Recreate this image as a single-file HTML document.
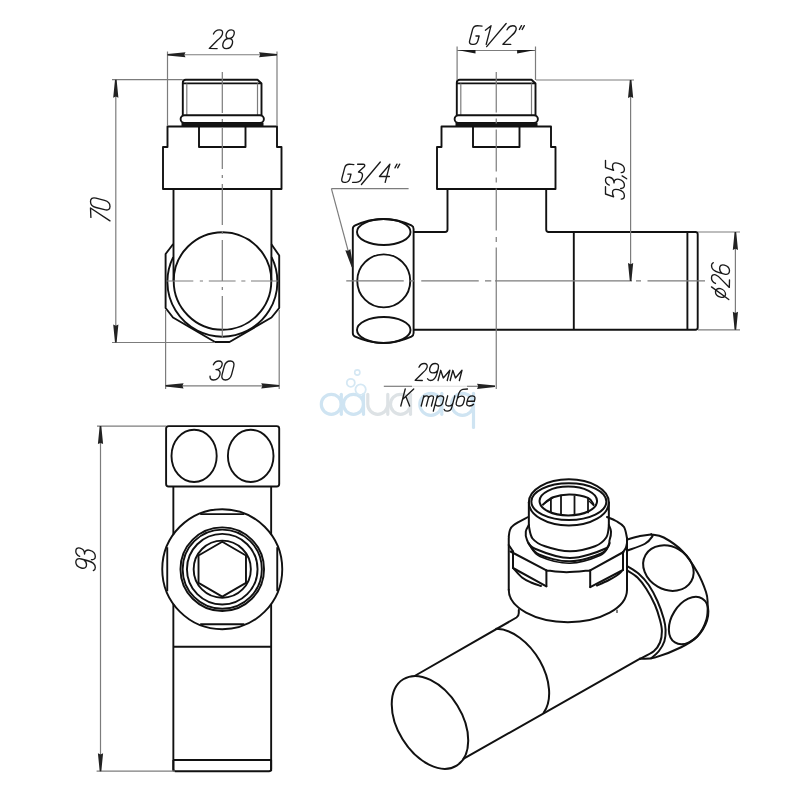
<!DOCTYPE html>
<html><head><meta charset="utf-8"><style>
html,body{margin:0;padding:0;background:#fff;font-family:"Liberation Sans",sans-serif;}
svg{display:block;}
</style></head><body>
<svg width="800" height="800" viewBox="0 0 800 800">
<rect width="800" height="800" fill="#fff"/>
<circle cx="331.3" cy="404.3" r="10" stroke="#cfe4f2" stroke-width="3.2" fill="none" stroke-linecap="round"/>
<line x1="341.3" y1="394.3" x2="341.3" y2="414.3" stroke="#cfe4f2" stroke-width="3.2" fill="none" stroke-linecap="round"/>
<circle cx="353.5" cy="404.3" r="10" stroke="#cfe4f2" stroke-width="3.2" fill="none" stroke-linecap="round"/>
<line x1="363.5" y1="394.3" x2="363.5" y2="414.3" stroke="#cfe4f2" stroke-width="3.2" fill="none" stroke-linecap="round"/>
<path d="M367.8,394.3 L367.8,404.3 A10,10 0 0 0 387.8,404.3 L387.8,394.3 M387.8,404.3 L387.8,414.3" stroke="#dde2e5" stroke-width="3.2" fill="none" stroke-linecap="round"/>
<circle cx="400.5" cy="404.3" r="10" stroke="#dde2e5" stroke-width="3.2" fill="none" stroke-linecap="round"/>
<line x1="410.5" y1="394.3" x2="410.5" y2="414.3" stroke="#dde2e5" stroke-width="3.2" fill="none" stroke-linecap="round"/>
<circle cx="430.8" cy="404.3" r="11" stroke="#cfe4f2" stroke-width="3.2" fill="none" stroke-linecap="round"/>
<line x1="441.8" y1="393.3" x2="441.8" y2="414.3" stroke="#cfe4f2" stroke-width="3.2" fill="none" stroke-linecap="round"/>
<circle cx="462.5" cy="404.3" r="11" stroke="#cfe4f2" stroke-width="3.2" fill="none" stroke-linecap="round"/>
<line x1="473.5" y1="393.3" x2="473.5" y2="427.5" stroke="#cfe4f2" stroke-width="3.2" fill="none" stroke-linecap="round"/>
<circle cx="357.3" cy="372.5" r="2.6" stroke="#d5e8f4" stroke-width="1.6" fill="none"/>
<circle cx="350.8" cy="382.8" r="4" stroke="#d5e8f4" stroke-width="1.8" fill="none"/>
<circle cx="360.6" cy="389.6" r="5.2" stroke="#d5e8f4" stroke-width="1.8" fill="none"/>
<path d="M182.8,115 L182.8,82.7 Q182.8,79.7 185.8,79.7 L257.5,79.7 L261.5,83.5 L261.5,115" stroke="#111" stroke-width="1.9" fill="none" stroke-linejoin="round"/>
<line x1="182.8" y1="83.4" x2="261.5" y2="83.4" stroke="#111" stroke-width="1.9" fill="none" stroke-linejoin="round"/>
<line x1="186.8" y1="83.4" x2="186.8" y2="115" stroke="#7c7c7c" stroke-width="1.2" fill="none"/>
<line x1="257.5" y1="83.4" x2="257.5" y2="115" stroke="#7c7c7c" stroke-width="1.2" fill="none"/>
<path d="M184.5,115.2 L260,115.2 A3.9,3.9 0 0 1 260,123 L184.5,123 A3.9,3.9 0 0 1 184.5,115.2 Z" stroke="#111" stroke-width="1.9" fill="none" stroke-linejoin="round"/>
<rect x="181.5" y="123" width="82" height="3.5" fill="#141414"/>
<path d="M167.5,126.5 L277,126.5 L277,147 L281.5,147 L281.5,189 L163,189 L163,147 L167.5,147 Z" stroke="#111" stroke-width="1.9" fill="none" stroke-linejoin="round"/>
<path d="M199,126.5 L199,147 L245.5,147 L245.5,126.5" stroke="#111" stroke-width="1.9" fill="none" stroke-linejoin="round"/>
<line x1="167.5" y1="51.5" x2="167.5" y2="126" stroke="#7c7c7c" stroke-width="1.2" fill="none"/>
<line x1="277" y1="51.5" x2="277" y2="126" stroke="#7c7c7c" stroke-width="1.2" fill="none"/>
<line x1="167.5" y1="54.75" x2="277" y2="54.75" stroke="#7c7c7c" stroke-width="1.2" fill="none"/>
<polygon points="167.50,53.95 185.50,52.15 184.30,54.75 185.50,57.35 167.50,55.55" fill="#222"/>
<polygon points="277.00,55.55 259.00,57.35 260.20,54.75 259.00,52.15 277.00,53.95" fill="#222"/>
<path transform="translate(209.25,48.60) rotate(0)" d="M 4.19,-14.66 C 5.49,-17.48 7.71,-18.80 9.96,-18.80 C 12.78,-18.80 13.85,-17.11 13.16,-14.48 C 12.53,-12.03 10.77,-10.34 8.17,-8.27 L 0.05,-0.19 L 7.90,0.00 M 22.02,-18.80 C 19.39,-18.80 17.59,-16.92 16.95,-14.48 C 16.27,-11.84 17.52,-10.15 19.77,-10.15 C 22.03,-10.15 24.16,-11.84 24.85,-14.48 C 25.48,-16.92 24.65,-18.80 22.02,-18.80 Z M 19.77,-10.15 C 16.95,-10.15 14.54,-8.08 13.75,-5.08 C 12.92,-1.88 14.31,0.00 17.13,0.00 C 19.95,0.00 22.32,-1.88 23.15,-5.08 C 23.94,-8.08 22.59,-10.15 19.77,-10.15 Z" stroke="#1a1a1a" stroke-width="1.35" fill="none" stroke-linecap="round" stroke-linejoin="round"/>
<line x1="173.5" y1="189" x2="173.5" y2="281" stroke="#111" stroke-width="1.9" fill="none" stroke-linejoin="round"/>
<line x1="271.4" y1="189" x2="271.4" y2="281" stroke="#111" stroke-width="1.9" fill="none" stroke-linejoin="round"/>
<path d="M173.2,244 L165.6,254 L165.6,308 L173,317.5 L215,342 L229.5,342 L271.5,317.5 L279.2,308 L279.2,255.5 L271.4,244.2" stroke="#111" stroke-width="1.9" fill="none" stroke-linejoin="round"/>
<circle cx="222.5" cy="281" r="48.8" stroke="#111" stroke-width="1.9" fill="none" stroke-linejoin="round"/>
<path d="M173.2,257.1 A55,55 0 1 0 271.6,257.1" stroke="#111" stroke-width="1.9" fill="none" stroke-linejoin="round"/>
<path d="M222.3,72 L222.3,113 M222.3,119 L222.3,122 M222.3,128 L222.3,169 M222.3,175 L222.3,178 M222.3,184 L222.3,225 M222.3,231 L222.3,234 M222.3,240 L222.3,281 M222.3,287 L222.3,290 M222.3,296 L222.3,338" stroke="#7c7c7c" stroke-width="1.2" fill="none"/>
<path d="M166.5,281 L193.3,281 M199.8,281 L203,281 M208.8,281 L235.6,281 M241.3,281 L245.4,281 M251,281 L277.9,281" stroke="#7c7c7c" stroke-width="1.2" fill="none"/>
<line x1="112" y1="79.7" x2="182.8" y2="79.7" stroke="#7c7c7c" stroke-width="1.2" fill="none"/>
<line x1="112" y1="342.5" x2="215" y2="342.5" stroke="#7c7c7c" stroke-width="1.2" fill="none"/>
<line x1="115.8" y1="79.7" x2="115.8" y2="342.5" stroke="#7c7c7c" stroke-width="1.2" fill="none"/>
<polygon points="116.60,79.70 118.40,97.70 115.80,96.50 113.20,97.70 115.00,79.70" fill="#222"/>
<polygon points="115.00,342.50 113.20,324.50 115.80,325.70 118.40,324.50 116.60,342.50" fill="#222"/>
<path transform="translate(110.00,222.39) rotate(-90)" d="M 4.97,-19.11 L 14.37,-19.50 L 1.49,0.00 M 24.21,-14.04 C 25.12,-17.55 23.77,-19.50 20.97,-19.50 C 18.18,-19.50 15.82,-17.55 14.90,-14.04 L 12.67,-5.46 C 11.76,-1.95 13.11,0.00 15.90,0.00 C 18.70,0.00 21.06,-1.95 21.98,-5.46 Z" stroke="#1a1a1a" stroke-width="1.35" fill="none" stroke-linecap="round" stroke-linejoin="round"/>
<line x1="165.6" y1="310" x2="165.6" y2="389" stroke="#7c7c7c" stroke-width="1.2" fill="none"/>
<line x1="279.2" y1="310" x2="279.2" y2="389" stroke="#7c7c7c" stroke-width="1.2" fill="none"/>
<line x1="165.6" y1="385.8" x2="279.2" y2="385.8" stroke="#7c7c7c" stroke-width="1.2" fill="none"/>
<polygon points="165.60,385.00 183.60,383.20 182.40,385.80 183.60,388.40 165.60,386.60" fill="#222"/>
<polygon points="279.20,386.60 261.20,388.40 262.40,385.80 261.20,383.20 279.20,385.00" fill="#222"/>
<path transform="translate(209.04,380.00) rotate(0)" d="M 4.33,-15.20 C 5.59,-17.86 7.60,-19.00 9.69,-19.00 C 12.54,-19.00 13.62,-17.29 12.97,-14.82 C 12.28,-12.16 9.94,-10.45 6.90,-10.45 C 10.32,-10.45 11.67,-8.36 10.88,-5.32 C 9.99,-1.90 7.60,0.00 4.56,0.00 C 1.90,0.00 0.78,-1.52 0.99,-3.80 M 24.70,-13.68 C 25.59,-17.10 24.18,-19.00 21.33,-19.00 C 18.48,-19.00 16.09,-17.10 15.20,-13.68 L 13.03,-5.32 C 12.14,-1.90 13.54,0.00 16.39,0.00 C 19.24,0.00 21.64,-1.90 22.53,-5.32 Z" stroke="#1a1a1a" stroke-width="1.35" fill="none" stroke-linecap="round" stroke-linejoin="round"/>
<path d="M456.8,115 L456.8,82.7 Q456.8,79.7 459.8,79.7 L531.5,79.7 L535.5,83.5 L535.5,115" stroke="#111" stroke-width="1.9" fill="none" stroke-linejoin="round"/>
<line x1="456.8" y1="83.4" x2="535.5" y2="83.4" stroke="#111" stroke-width="1.9" fill="none" stroke-linejoin="round"/>
<line x1="460.8" y1="83.4" x2="460.8" y2="115" stroke="#7c7c7c" stroke-width="1.2" fill="none"/>
<line x1="531.5" y1="83.4" x2="531.5" y2="115" stroke="#7c7c7c" stroke-width="1.2" fill="none"/>
<path d="M458.5,115.2 L534,115.2 A3.9,3.9 0 0 1 534,123 L458.5,123 A3.9,3.9 0 0 1 458.5,115.2 Z" stroke="#111" stroke-width="1.9" fill="none" stroke-linejoin="round"/>
<rect x="455.5" y="123" width="82" height="3.5" fill="#141414"/>
<path d="M441.5,126.5 L551,126.5 L551,147 L555.5,147 L555.5,189 L437,189 L437,147 L441.5,147 Z" stroke="#111" stroke-width="1.9" fill="none" stroke-linejoin="round"/>
<path d="M473,126.5 L473,147 L519.5,147 L519.5,126.5" stroke="#111" stroke-width="1.9" fill="none" stroke-linejoin="round"/>
<line x1="457.1" y1="46.5" x2="457.1" y2="80" stroke="#7c7c7c" stroke-width="1.2" fill="none"/>
<line x1="535.5" y1="46.5" x2="535.5" y2="80" stroke="#7c7c7c" stroke-width="1.2" fill="none"/>
<line x1="457.1" y1="50.5" x2="535.5" y2="50.5" stroke="#7c7c7c" stroke-width="1.2" fill="none"/>
<polygon points="457.1,50.1 475.5,50.1 475.5,53.4" fill="#1a1a1a"/>
<polygon points="535.5,50.1 517.1,50.1 517.1,53.4" fill="#1a1a1a"/>
<path transform="translate(468.70,44.40) rotate(0)" d="M 13.37,-18.33 L 8.60,-18.70 C 6.17,-18.70 4.47,-17.20 3.89,-14.96 L 0.97,-3.74 C 0.39,-1.50 1.31,0.00 3.74,0.00 L 4.86,0.00 C 7.29,0.00 8.62,-1.50 9.20,-3.74 L 10.42,-8.41 L 7.24,-8.41 M 16.71,-14.21 L 22.36,-18.70 L 17.50,0.00 M 17.96,2.24 L 37.45,-20.94 M 38.34,-14.59 C 39.63,-17.39 41.84,-18.70 44.09,-18.70 C 46.89,-18.70 47.95,-17.02 47.27,-14.40 C 46.64,-11.97 44.89,-10.29 42.30,-8.23 L 34.22,-0.19 L 42.03,0.00 M 52.80,-18.70 L 50.70,-14.96 M 55.60,-18.70 L 53.51,-14.96" stroke="#1a1a1a" stroke-width="1.35" fill="none" stroke-linecap="round" stroke-linejoin="round"/>
<line x1="536" y1="80" x2="634" y2="80" stroke="#7c7c7c" stroke-width="1.2" fill="none"/>
<path d="M447.5,189 L447.5,229.5 Q447.5,232 445,232 L413.8,232" stroke="#111" stroke-width="1.9" fill="none" stroke-linejoin="round"/>
<path d="M546.2,189 L546.2,229.5 Q546.2,232 548.7,232 L695.5,232 Q697.7,232 697.7,234.2 L697.7,327.6 Q697.7,329.8 695.5,329.8 L413.8,329.8" stroke="#111" stroke-width="1.9" fill="none" stroke-linejoin="round"/>
<line x1="573.8" y1="232" x2="573.8" y2="329.8" stroke="#111" stroke-width="1.9" fill="none" stroke-linejoin="round"/>
<line x1="687.4" y1="232" x2="687.4" y2="329.8" stroke="#111" stroke-width="1.9" fill="none" stroke-linejoin="round"/>
<path d="M352.8,333 L352.8,229 Q352.8,226.5 355.2,225.4 Q383.3,212.6 411.4,225.4 Q413.6,226.5 413.6,229 L413.6,333 Q413.6,335.5 411.4,336.6 Q383.3,349.4 355.2,336.6 Q352.8,335.5 352.8,333 Z" stroke="#111" stroke-width="1.9" fill="none" stroke-linejoin="round"/>
<ellipse cx="383.75" cy="232" rx="26.75" ry="13" stroke="#111" stroke-width="1.9" fill="none" stroke-linejoin="round"/>
<ellipse cx="383.75" cy="330" rx="26.75" ry="13" stroke="#111" stroke-width="1.9" fill="none" stroke-linejoin="round"/>
<circle cx="383.75" cy="280.9" r="26.5" stroke="#111" stroke-width="1.9" fill="none" stroke-linejoin="round"/>
<path d="M496.25,72 L496.25,112.5 M496.25,118.5 L496.25,123.5 M496.25,129.5 L496.25,171.5 M496.25,177.5 L496.25,182.5 M496.25,188.5 L496.25,230.5 M496.25,237 L496.25,242 M496.25,247.5 L496.25,389" stroke="#7c7c7c" stroke-width="1.2" fill="none"/>
<path d="M346.25,280.9 L403.75,280.9 M410,280.9 L415,280.9 M421.25,280.9 L478.75,280.9 M485,280.9 L491.25,280.9 M495,280.9 L632,280.9 M636,280.9 L641,280.9 M647.5,280.9 L705,280.9" stroke="#7c7c7c" stroke-width="1.2" fill="none"/>
<line x1="630.6" y1="80" x2="630.6" y2="281" stroke="#7c7c7c" stroke-width="1.2" fill="none"/>
<polygon points="631.40,80.00 633.20,98.00 630.60,96.80 628.00,98.00 629.80,80.00" fill="#222"/>
<polygon points="629.80,281.00 628.00,263.00 630.60,264.20 633.20,263.00 631.40,281.00" fill="#222"/>
<path transform="translate(624.40,199.94) rotate(-90)" d="M 13.21,-18.90 L 5.95,-18.90 L 3.15,-10.77 C 4.78,-11.72 6.21,-11.91 7.59,-11.91 C 10.36,-11.91 11.10,-9.45 10.22,-6.05 C 9.24,-2.27 6.92,0.00 4.15,0.00 C 1.73,0.00 0.86,-1.32 0.84,-3.21 M 14.81,-15.12 C 16.02,-17.77 17.87,-18.90 19.77,-18.90 C 22.37,-18.90 23.31,-17.20 22.67,-14.74 C 21.98,-12.10 19.81,-10.39 17.04,-10.39 C 20.16,-10.39 21.34,-8.32 20.56,-5.29 C 19.67,-1.89 17.45,0.00 14.69,0.00 C 12.27,0.00 11.28,-1.51 11.52,-3.78 M 24.08,-2.27 L 21.17,2.27 M 39.64,-18.90 L 32.37,-18.90 L 29.57,-10.77 C 31.20,-11.72 32.63,-11.91 34.01,-11.91 C 36.78,-11.91 37.52,-9.45 36.64,-6.05 C 35.66,-2.27 33.34,0.00 30.57,0.00 C 28.15,0.00 27.28,-1.32 27.26,-3.21" stroke="#1a1a1a" stroke-width="1.35" fill="none" stroke-linecap="round" stroke-linejoin="round"/>
<line x1="698" y1="232" x2="740" y2="232" stroke="#7c7c7c" stroke-width="1.2" fill="none"/>
<line x1="698" y1="329.8" x2="740" y2="329.8" stroke="#7c7c7c" stroke-width="1.2" fill="none"/>
<line x1="735.4" y1="232" x2="735.4" y2="329.8" stroke="#7c7c7c" stroke-width="1.2" fill="none"/>
<polygon points="736.20,232.00 738.00,250.00 735.40,248.80 732.80,250.00 734.60,232.00" fill="#222"/>
<polygon points="734.60,329.80 732.80,311.80 735.40,313.00 738.00,311.80 736.20,329.80" fill="#222"/>
<path transform="translate(729.50,299.51) rotate(-90)" d="M 7.79,-14.04 C 5.45,-14.04 3.09,-11.88 2.34,-9.00 C 1.59,-6.12 2.83,-3.96 5.17,-3.96 C 7.51,-3.96 10.05,-6.12 10.80,-9.00 C 11.55,-11.88 10.13,-14.04 7.79,-14.04 Z M 12.60,-18.00 L 0.01,-0.72 M 16.08,-14.04 C 17.32,-16.74 19.45,-18.00 21.61,-18.00 C 24.31,-18.00 25.33,-16.38 24.67,-13.86 C 24.06,-11.52 22.38,-9.90 19.89,-7.92 L 12.11,-0.18 L 19.63,0.00 M 36.81,-16.20 C 36.23,-17.46 35.12,-18.00 33.68,-18.00 C 30.62,-18.00 28.11,-15.30 26.85,-10.44 L 25.45,-5.04 C 24.60,-1.80 25.94,0.00 28.64,0.00 C 31.34,0.00 33.60,-1.80 34.45,-5.04 C 35.24,-8.10 33.91,-9.90 31.21,-9.90 C 28.87,-9.90 26.92,-8.64 26.01,-7.20" stroke="#1a1a1a" stroke-width="1.35" fill="none" stroke-linecap="round" stroke-linejoin="round"/>
<line x1="331.4" y1="188.7" x2="408.6" y2="188.7" stroke="#7c7c7c" stroke-width="1.2" fill="none"/>
<line x1="331.4" y1="188.7" x2="352.5" y2="267" stroke="#7c7c7c" stroke-width="1.2" fill="none"/>
<polygon points="351.73,267.21 345.31,250.30 348.13,250.78 350.33,248.94 353.27,266.79" fill="#222"/>
<path transform="translate(340.92,182.30) rotate(0)" d="M 12.94,-17.74 L 8.33,-18.10 C 5.97,-18.10 4.33,-16.65 3.76,-14.48 L 0.94,-3.62 C 0.38,-1.45 1.27,0.00 3.62,0.00 L 4.71,0.00 C 7.06,0.00 8.34,-1.45 8.91,-3.62 L 10.08,-8.14 L 7.00,-8.14 M 16.69,-18.10 L 22.12,-18.10 C 23.93,-18.10 24.37,-17.01 23.27,-15.57 L 17.56,-10.32 C 21.18,-10.32 22.06,-8.14 21.36,-5.43 C 20.41,-1.81 18.13,0.00 15.24,0.00 L 11.62,0.00 M 20.50,2.17 L 39.37,-20.27 M 44.26,0.00 L 48.97,-18.10 L 38.53,-5.79 L 48.48,-5.79 M 56.06,-18.10 L 54.03,-14.48 M 58.78,-18.10 L 56.75,-14.48" stroke="#1a1a1a" stroke-width="1.35" fill="none" stroke-linecap="round" stroke-linejoin="round"/>
<line x1="383.8" y1="386.3" x2="412" y2="386.3" stroke="#7c7c7c" stroke-width="1.2" fill="none"/>
<line x1="412" y1="386.3" x2="467" y2="386.3" stroke="#dedede" stroke-width="1.1" fill="none"/>
<line x1="467" y1="386.3" x2="495" y2="386.3" stroke="#7c7c7c" stroke-width="1.2" fill="none"/>
<polygon points="495.00,387.10 477.00,388.90 478.20,386.30 477.00,383.70 495.00,385.50" fill="#222"/>
<path transform="translate(415.16,380.50) rotate(0)" d="M 3.79,-13.26 C 4.96,-15.81 6.97,-17.00 9.01,-17.00 C 11.56,-17.00 12.52,-15.47 11.90,-13.09 C 11.33,-10.88 9.74,-9.35 7.38,-7.48 L 0.04,-0.17 L 7.14,0.00 M 12.40,-1.70 C 12.94,-0.51 13.99,0.00 15.35,0.00 C 18.24,0.00 20.61,-2.55 21.80,-7.14 L 23.13,-12.24 C 23.92,-15.30 22.66,-17.00 20.11,-17.00 C 17.56,-17.00 15.42,-15.30 14.63,-12.24 C 13.88,-9.35 15.13,-7.65 17.68,-7.65 C 19.89,-7.65 21.73,-8.84 22.60,-10.20 M 22.89,0.00 L 25.54,-10.20 L 28.14,-2.55 L 34.72,-10.20 L 32.07,0.00 M 35.01,0.00 L 37.66,-10.20 L 40.27,-2.55 L 46.84,-10.20 L 44.19,0.00" stroke="#1a1a1a" stroke-width="1.35" fill="none" stroke-linecap="round" stroke-linejoin="round"/>
<path transform="translate(400.80,406.00) rotate(0)" d="M 4.42,-17.00 L 0.00,0.00 M 12.92,-17.00 L 1.68,-6.46 M 5.15,-9.35 L 8.84,0.00 M 20.41,0.00 L 23.07,-10.20 M 22.40,-7.65 C 22.85,-9.35 24.09,-10.20 25.62,-10.20 C 27.15,-10.20 27.95,-9.35 27.50,-7.65 L 25.51,0.00 M 27.50,-7.65 C 27.95,-9.35 29.19,-10.20 30.72,-10.20 C 32.25,-10.20 33.05,-9.35 32.60,-7.65 L 30.61,0.00 M 32.53,5.10 L 36.50,-10.20 M 35.62,-6.80 C 36.20,-9.01 37.86,-10.20 39.90,-10.20 C 42.11,-10.20 43.29,-8.84 42.76,-6.80 L 41.88,-3.40 C 41.30,-1.19 39.46,0.00 37.25,0.00 C 35.21,0.00 34.16,-1.19 34.74,-3.40 M 46.88,-10.20 L 45.11,-3.40 C 44.54,-1.19 45.59,0.00 47.63,0.00 C 49.67,0.00 51.68,-1.19 52.25,-3.40 M 54.02,-10.20 L 50.93,1.70 C 50.31,4.08 48.51,5.10 46.30,5.10 C 44.60,5.10 43.59,4.42 43.35,3.40 M 66.68,-17.00 L 62.00,-16.66 C 59.87,-16.32 58.36,-14.45 57.26,-10.20 L 55.49,-3.40 C 54.92,-1.19 55.97,0.00 58.18,0.00 C 60.39,0.00 62.23,-1.19 62.80,-3.40 L 63.60,-6.46 C 64.13,-8.50 62.95,-9.86 60.74,-9.86 C 58.87,-9.86 57.46,-9.01 56.60,-7.65 M 66.73,-4.76 L 73.53,-4.76 L 74.06,-6.80 C 74.64,-9.01 73.42,-10.20 71.38,-10.20 C 69.17,-10.20 67.45,-8.84 66.92,-6.80 L 66.04,-3.40 C 65.46,-1.19 66.51,0.00 68.72,0.00 C 70.42,0.00 71.75,-0.51 72.74,-1.70" stroke="#1a1a1a" stroke-width="1.35" fill="none" stroke-linecap="round" stroke-linejoin="round"/>
<path d="M168.6,426.1 L276.7,426.1 Q279.2,426.1 279.2,428.6 L279.2,484 Q279.2,486.5 276.7,486.5 L168.6,486.5 Q166.1,486.5 166.1,484 L166.1,428.6 Q166.1,426.1 168.6,426.1 Z" stroke="#111" stroke-width="1.9" fill="none" stroke-linejoin="round"/>
<ellipse cx="194.1" cy="455.9" rx="22.6" ry="26.1" stroke="#111" stroke-width="1.9" fill="none" stroke-linejoin="round"/>
<ellipse cx="250.7" cy="455.9" rx="22.8" ry="26.1" stroke="#111" stroke-width="1.9" fill="none" stroke-linejoin="round"/>
<line x1="173.35" y1="486.5" x2="173.35" y2="534.6" stroke="#111" stroke-width="1.9" fill="none" stroke-linejoin="round"/>
<line x1="271.15" y1="486.5" x2="271.15" y2="534.6" stroke="#111" stroke-width="1.9" fill="none" stroke-linejoin="round"/>
<line x1="173.35" y1="604" x2="173.35" y2="771.2" stroke="#111" stroke-width="1.9" fill="none" stroke-linejoin="round"/>
<line x1="271.15" y1="604" x2="271.15" y2="771.2" stroke="#111" stroke-width="1.9" fill="none" stroke-linejoin="round"/>
<circle cx="222.25" cy="569.2" r="60" stroke="#111" stroke-width="1.9" fill="none" stroke-linejoin="round"/>
<line x1="200.2" y1="514.1" x2="244.3" y2="514.1" stroke="#111" stroke-width="1.9" fill="none" stroke-linejoin="round"/>
<line x1="200.2" y1="624.3" x2="244.3" y2="624.3" stroke="#111" stroke-width="1.9" fill="none" stroke-linejoin="round"/>
<line x1="167.25" y1="547.2" x2="167.25" y2="591.2" stroke="#111" stroke-width="1.9" fill="none" stroke-linejoin="round"/>
<line x1="277.25" y1="547.2" x2="277.25" y2="591.2" stroke="#111" stroke-width="1.9" fill="none" stroke-linejoin="round"/>
<circle cx="222.25" cy="569.2" r="41.8" stroke="#111" stroke-width="1.9" fill="none" stroke-linejoin="round"/>
<circle cx="222.25" cy="569.2" r="39.6" stroke="#111" stroke-width="1.9" fill="none" stroke-linejoin="round"/>
<circle cx="222.25" cy="569.2" r="35.3" stroke="#111" stroke-width="1.9" fill="none" stroke-linejoin="round"/>
<circle cx="222.25" cy="569.2" r="28.6" stroke="#111" stroke-width="1.9" fill="none" stroke-linejoin="round"/>
<polygon points="222.25,541.80 245.98,555.50 245.98,582.90 222.25,596.60 198.52,582.90 198.52,555.50" stroke="#111" stroke-width="1.9" fill="none" stroke-linejoin="round"/>
<line x1="173.35" y1="646.8" x2="271.15" y2="646.8" stroke="#111" stroke-width="1.9" fill="none" stroke-linejoin="round"/>
<line x1="173.35" y1="760" x2="271.15" y2="760" stroke="#111" stroke-width="1.9" fill="none" stroke-linejoin="round"/>
<path d="M173.35,760 L173.35,769 Q173.35,771.2 175.5,771.2 L269,771.2 Q271.15,771.2 271.15,769 L271.15,760" stroke="#111" stroke-width="1.9" fill="none" stroke-linejoin="round"/>
<line x1="97" y1="426.1" x2="166.1" y2="426.1" stroke="#7c7c7c" stroke-width="1.2" fill="none"/>
<line x1="96.6" y1="771.2" x2="175" y2="771.2" stroke="#7c7c7c" stroke-width="1.2" fill="none"/>
<line x1="100.5" y1="426.1" x2="100.5" y2="771.2" stroke="#7c7c7c" stroke-width="1.2" fill="none"/>
<polygon points="101.30,426.10 103.10,444.10 100.50,442.90 97.90,444.10 99.70,426.10" fill="#222"/>
<polygon points="99.70,771.20 97.90,753.20 100.50,754.40 103.10,753.20 101.30,771.20" fill="#222"/>
<path transform="translate(95.30,571.65) rotate(-90)" d="M 1.05,-1.95 C 1.59,-0.59 2.70,0.00 4.14,0.00 C 7.20,0.00 9.76,-2.93 11.13,-8.19 L 12.65,-14.04 C 13.57,-17.55 12.27,-19.50 9.57,-19.50 C 6.87,-19.50 4.56,-17.55 3.65,-14.04 C 2.79,-10.73 4.08,-8.77 6.78,-8.77 C 9.12,-8.77 11.10,-10.14 12.04,-11.70 M 15.37,-15.60 C 16.62,-18.33 18.54,-19.50 20.52,-19.50 C 23.22,-19.50 24.21,-17.75 23.55,-15.21 C 22.84,-12.48 20.58,-10.73 17.70,-10.73 C 20.94,-10.73 22.19,-8.58 21.37,-5.46 C 20.46,-1.95 18.15,0.00 15.27,0.00 C 12.75,0.00 11.72,-1.56 11.97,-3.90" stroke="#1a1a1a" stroke-width="1.35" fill="none" stroke-linecap="round" stroke-linejoin="round"/>
<ellipse cx="429.97" cy="722.4" rx="50.76" ry="32.18" transform="rotate(58.26 429.97 722.4)" stroke="#111" stroke-width="2.0" fill="none" stroke-linecap="round" stroke-linejoin="round"/>
<path d="M415,675.75 L516.5,617.5 Q518.8,616 518.8,613 L518.8,610" stroke="#111" stroke-width="2.0" fill="none" stroke-linecap="round" stroke-linejoin="round"/>
<line x1="463.75" y1="758.6" x2="640.1" y2="658.7" stroke="#111" stroke-width="2.0" fill="none" stroke-linecap="round" stroke-linejoin="round"/>
<path d="M496.25,628.75 A50.76,32.18 58.26 0 1 543.75,712.5" stroke="#111" stroke-width="2.0" fill="none" stroke-linecap="round" stroke-linejoin="round"/>
<line x1="508.75" y1="538" x2="508.75" y2="589.8" stroke="#111" stroke-width="2.0" fill="none" stroke-linecap="round" stroke-linejoin="round"/>
<line x1="627" y1="538" x2="627" y2="589.8" stroke="#111" stroke-width="2.0" fill="none" stroke-linecap="round" stroke-linejoin="round"/>
<path d="M508.75,589.8 A59.1,32.4 0 0 0 627,589.8" stroke="#111" stroke-width="2.0" fill="none" stroke-linecap="round" stroke-linejoin="round"/>
<path d="M528.20,517.00 C525.75,518.37 516.57,522.95 513.50,525.20 C510.43,527.45 510.59,528.53 509.80,530.50 C509.01,532.47 508.93,535.92 508.75,537.00" stroke="#111" stroke-width="2.0" fill="none" stroke-linecap="round" stroke-linejoin="round"/>
<path d="M607.00,517.00 C608.50,517.67 613.17,519.33 616.00,521.00 C618.83,522.67 622.17,524.17 624.00,527.00 C625.83,529.83 626.50,536.17 627.00,538.00" stroke="#111" stroke-width="2.0" fill="none" stroke-linecap="round" stroke-linejoin="round"/>
<line x1="510.5" y1="551.5" x2="546.4" y2="570.4" stroke="#111" stroke-width="2.0" fill="none" stroke-linecap="round" stroke-linejoin="round"/>
<line x1="513" y1="551.5" x2="513" y2="568" stroke="#111" stroke-width="2.0" fill="none" stroke-linecap="round" stroke-linejoin="round"/>
<line x1="546.4" y1="570.4" x2="546.4" y2="586.3" stroke="#111" stroke-width="2.0" fill="none" stroke-linecap="round" stroke-linejoin="round"/>
<line x1="513" y1="568" x2="546.4" y2="586.3" stroke="#111" stroke-width="2.0" fill="none" stroke-linecap="round" stroke-linejoin="round"/>
<path d="M514.00,569.00 C515.33,570.42 519.17,575.25 522.00,577.50 C524.83,579.75 527.83,581.08 531.00,582.50 C534.17,583.92 539.33,585.42 541.00,586.00" stroke="#111" stroke-width="2.0" fill="none" stroke-linecap="round" stroke-linejoin="round"/>
<line x1="508.75" y1="545" x2="513.1" y2="551.5" stroke="#111" stroke-width="2.0" fill="none" stroke-linecap="round" stroke-linejoin="round"/>
<path d="M546.40,570.40 C549.75,570.72 559.20,572.30 566.50,572.30 C573.80,572.30 586.25,570.72 590.20,570.40" stroke="#111" stroke-width="2.0" fill="none" stroke-linecap="round" stroke-linejoin="round"/>
<line x1="590.2" y1="570.4" x2="623.5" y2="552" stroke="#111" stroke-width="2.0" fill="none" stroke-linecap="round" stroke-linejoin="round"/>
<line x1="590.2" y1="570.4" x2="590.2" y2="587.1" stroke="#111" stroke-width="2.0" fill="none" stroke-linecap="round" stroke-linejoin="round"/>
<line x1="590.2" y1="587.1" x2="623" y2="570" stroke="#111" stroke-width="2.0" fill="none" stroke-linecap="round" stroke-linejoin="round"/>
<line x1="623" y1="552" x2="623" y2="570" stroke="#111" stroke-width="2.0" fill="none" stroke-linecap="round" stroke-linejoin="round"/>
<path d="M623.00,552.00 C623.47,551.33 625.13,549.50 625.80,548.00 C626.47,546.50 626.80,543.83 627.00,543.00" stroke="#111" stroke-width="2.0" fill="none" stroke-linecap="round" stroke-linejoin="round"/>
<path d="M597.00,585.50 C598.83,584.67 604.83,582.08 608.00,580.50 C611.17,578.92 613.75,577.50 616.00,576.00 C618.25,574.50 620.58,572.25 621.50,571.50" stroke="#111" stroke-width="2.0" fill="none" stroke-linecap="round" stroke-linejoin="round"/>
<line x1="617" y1="610" x2="617" y2="612.5" stroke="#141414" stroke-width="1.1" fill="none" stroke-linecap="round"/>
<line x1="528.85" y1="502.4" x2="528.85" y2="526" stroke="#111" stroke-width="2.0" fill="none" stroke-linecap="round" stroke-linejoin="round"/>
<line x1="608.85" y1="502.4" x2="608.85" y2="526" stroke="#111" stroke-width="2.0" fill="none" stroke-linecap="round" stroke-linejoin="round"/>
<ellipse cx="568.85" cy="502.4" rx="40.0" ry="23.1" transform="rotate(0 568.85 502.4)" stroke="#111" stroke-width="2.0" fill="none" stroke-linecap="round" stroke-linejoin="round"/>
<ellipse cx="568.85" cy="501.6" rx="37.5" ry="18.4" transform="rotate(0 568.85 501.6)" stroke="#111" stroke-width="2.0" fill="none" stroke-linecap="round" stroke-linejoin="round"/>
<ellipse cx="568.3" cy="501.05" rx="28.8" ry="14.45" transform="rotate(0 568.3 501.05)" stroke="#111" stroke-width="2.0" fill="none" stroke-linecap="round" stroke-linejoin="round"/>
<path d="M543.00,504.60 C544.68,503.38 548.60,498.98 553.10,497.30 C557.60,495.62 564.18,494.40 570.00,494.50 C575.82,494.60 584.07,496.22 588.00,497.90 C591.93,499.58 592.67,503.48 593.60,504.60" stroke="#111" stroke-width="2.0" fill="none" stroke-linecap="round" stroke-linejoin="round"/>
<line x1="550.9" y1="498.5" x2="550.9" y2="513" stroke="#141414" stroke-width="1.8" fill="none"/>
<line x1="561" y1="496" x2="561" y2="515.3" stroke="#141414" stroke-width="1.8" fill="none"/>
<line x1="574.5" y1="495.5" x2="574.5" y2="515.5" stroke="#141414" stroke-width="1.8" fill="none"/>
<line x1="588" y1="497.5" x2="588" y2="513.3" stroke="#141414" stroke-width="1.8" fill="none"/>
<line x1="543" y1="504.6" x2="553.1" y2="497.8" stroke="#141414" stroke-width="1.1" fill="none" stroke-linecap="round"/>
<line x1="589" y1="501" x2="593.6" y2="505.5" stroke="#141414" stroke-width="1.1" fill="none" stroke-linecap="round"/>
<path d="M528.85,526.00 C529.46,528.08 529.81,535.12 532.50,538.50 C535.19,541.88 538.75,544.12 545.00,546.25 C551.25,548.38 561.67,551.25 570.00,551.25 C578.33,551.25 588.96,548.54 595.00,546.25 C601.04,543.96 603.94,540.88 606.25,537.50 C608.56,534.12 608.42,527.92 608.85,526.00" stroke="#111" stroke-width="2.0" fill="none" stroke-linecap="round" stroke-linejoin="round"/>
<path d="M528.85,525.00 C528.34,526.08 526.11,529.00 525.80,531.50 C525.49,534.00 525.47,537.12 527.00,540.00 C528.53,542.88 527.83,545.73 535.00,548.75 C542.17,551.77 558.33,558.10 570.00,558.10 C581.67,558.10 598.40,551.77 605.00,548.75 C611.60,545.73 608.60,542.88 609.60,540.00 C610.60,537.12 611.12,534.00 611.00,531.50 C610.88,529.00 609.21,526.08 608.85,525.00" stroke="#111" stroke-width="2.0" fill="none" stroke-linecap="round" stroke-linejoin="round"/>
<path d="M528.50,543.00 C530.25,544.92 532.08,551.45 539.00,554.50 C545.92,557.55 559.62,561.47 570.00,561.30 C580.38,561.13 594.65,556.55 601.25,553.50 C607.85,550.45 608.21,544.75 609.60,543.00" stroke="#111" stroke-width="2.0" fill="none" stroke-linecap="round" stroke-linejoin="round"/>
<path d="M530.00,546.00 C531.67,547.75 533.33,553.63 540.00,556.50 C546.67,559.37 560.00,563.37 570.00,563.20 C580.00,563.03 593.58,558.28 600.00,555.50 C606.42,552.72 607.08,548.00 608.50,546.50" stroke="#111" stroke-width="1.6" fill="none"/>
<path d="M627.50,539.40 C629.58,538.83 636.04,536.83 640.00,536.00 C643.96,535.17 649.38,534.67 651.25,534.40" stroke="#111" stroke-width="2.0" fill="none" stroke-linecap="round" stroke-linejoin="round"/>
<path d="M627.50,550.60 C630.42,549.46 640.83,546.14 645.00,543.75 C649.17,541.36 651.46,537.81 652.50,536.25 C653.54,534.69 651.46,534.71 651.25,534.40" stroke="#111" stroke-width="2.0" fill="none" stroke-linecap="round" stroke-linejoin="round"/>
<path d="M651.25,534.40 C653.33,534.92 658.54,534.69 663.75,537.50 C668.96,540.31 676.88,545.42 682.50,551.25 C688.12,557.08 693.58,565.71 697.50,572.50 C701.42,579.29 704.32,587.00 706.00,592.00 C707.68,597.00 707.52,597.93 707.60,602.50 C707.68,607.07 708.18,613.78 706.50,619.40 C704.82,625.02 701.82,631.52 697.50,636.20 C693.18,640.88 687.73,643.93 680.60,647.50 C673.47,651.07 661.45,655.73 654.70,657.60 C647.95,659.47 642.53,658.52 640.10,658.70" stroke="#111" stroke-width="2.0" fill="none" stroke-linecap="round" stroke-linejoin="round"/>
<path d="M627.50,566.25 C629.38,567.50 635.21,570.62 638.75,573.75 C642.29,576.88 645.62,580.42 648.75,585.00 C651.88,589.58 655.00,595.62 657.50,601.25 C660.00,606.88 662.40,613.96 663.75,618.75 C665.10,623.54 665.49,626.25 665.60,630.00 C665.71,633.75 665.54,637.71 664.40,641.25 C663.26,644.79 660.94,648.42 658.75,651.25 C656.56,654.08 652.50,657.04 651.25,658.20" stroke="#111" stroke-width="2.0" fill="none" stroke-linecap="round" stroke-linejoin="round"/>
<path d="M627.50,570.60 C629.17,571.75 634.38,574.48 637.50,577.50 C640.62,580.52 643.33,584.17 646.25,588.75 C649.17,593.33 652.71,599.79 655.00,605.00 C657.29,610.21 658.85,615.62 660.00,620.00 C661.15,624.38 661.90,627.50 661.90,631.25 C661.90,635.00 661.36,639.17 660.00,642.50 C658.64,645.83 657.07,648.55 653.75,651.25 C650.43,653.95 642.38,657.46 640.10,658.70" stroke="#111" stroke-width="2.0" fill="none" stroke-linecap="round" stroke-linejoin="round"/>
<ellipse cx="668.4" cy="568.1" rx="26.4" ry="21.4" transform="rotate(30 668.4 568.1)" stroke="#111" stroke-width="2.0" fill="none" stroke-linecap="round" stroke-linejoin="round"/>
<ellipse cx="688.6" cy="620.5" rx="25.85" ry="16.8" transform="rotate(-58 688.6 620.5)" stroke="#111" stroke-width="2.0" fill="none" stroke-linecap="round" stroke-linejoin="round"/>
</svg></body></html>
